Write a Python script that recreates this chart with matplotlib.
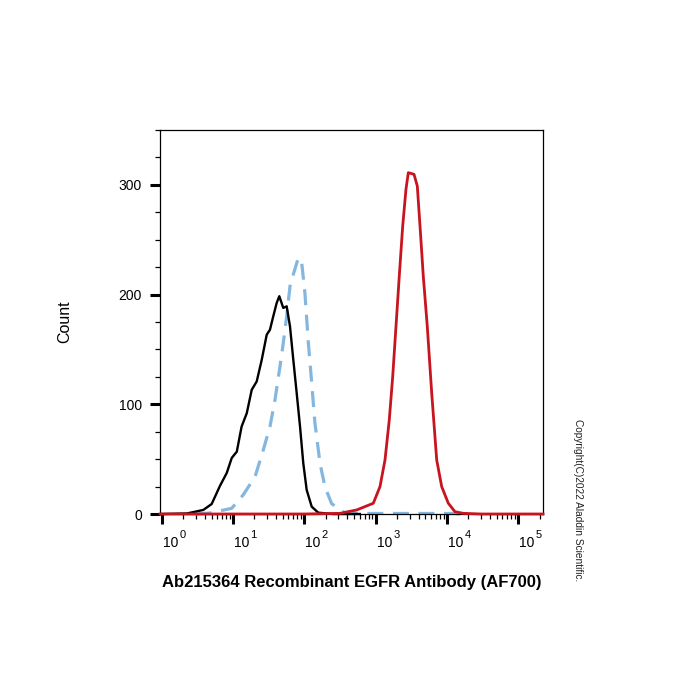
import numpy as np
import matplotlib
matplotlib.use("Agg")
import matplotlib.pyplot as plt
import matplotlib.transforms as mtransforms
from matplotlib.ticker import LogLocator, MultipleLocator, FixedLocator, NullFormatter

plt.rcParams['font.family'] = ['Liberation Sans', 'DejaVu Sans']

# isotype / unstained control (black)
black_x = [1.0, 2.26, 3.83, 5.02, 6.58, 8.17, 9.6, 11.3, 13.2, 15.6, 18.3, 21.5,
           25.3, 29.7, 33.0, 36.7, 41.0, 44.6, 50.7, 56.6, 63.0, 70.1, 78.2,
           87.1, 96.8, 108, 127, 157, 253, 600]
black_y = [0, 0.5, 3.7, 9.1, 25.8, 37.4, 51.1, 56.8, 79.7, 91.9, 113.2, 120.8,
           140.6, 163.4, 168.0, 180.2, 192.4, 198.5, 187.8, 189.3, 171.0, 140.6,
           110.2, 79.7, 46.2, 21.9, 6.7, 1.2, 0, 0]

# second control (blue dashed)
blue_x = [3.0, 4.75, 9.6, 13.9, 20.4, 26.6, 33.0, 38.8, 45.6, 50.7, 56.6, 63.0,
          70.1, 82.4, 92.0, 102, 114, 127, 141, 166, 195, 242, 372, 603,
          1500, 5000, 12000, 16000]
blue_y = [0, 0.9, 5.2, 17.4, 34.1, 58.4, 79.7, 104.1, 134.5, 155.8, 180.2, 207.6,
          218.3, 233.5, 228.9, 201.5, 155.8, 119.3, 82.8, 46.2, 24.7, 9.4, 1.0,
          0.5, 0.5, 0.5, 0.5, 0]

# EGFR antibody (red)
red_x = [0.95, 100, 317, 543, 929, 1153, 1355, 1556, 1738, 1932, 2148, 2399,
         2667, 2877, 3459, 3846, 4198, 4667, 5309, 6124, 7194, 8453, 10470,
         12970, 16980, 30000, 223000]
red_y = [0, 0, 0.6, 3.7, 9.8, 25.0, 49.3, 85.8, 125.4, 171.0, 216.7, 262.4,
         295.9, 311.1, 309.6, 298.9, 262.4, 216.7, 171.0, 110.2, 49.3, 25.0,
         9.8, 2.1, 0.6, 0, 0]

decades = [0, 1, 2, 3, 4, 5]
y_major = [0, 100, 200, 300]

fig = plt.figure(figsize=(7, 7), dpi=100)
ax = fig.add_axes([160 / 700, 1 - 514 / 700, 383 / 700, 384 / 700])

ax.plot(black_x, black_y, color='black', lw=1.7, clip_on=False, zorder=3)
ax.plot(blue_x, blue_y, color='#84b7e0', lw=2.3, dashes=(5, 3), clip_on=False, zorder=2)
ax.plot(red_x, red_y, color='#c8141e', lw=2.0, clip_on=False, zorder=4)

ax.set_xscale('log')
ax.set_xlim(10 ** -0.024, 10 ** 5.348)
ax.set_ylim(0, 350)

ax.xaxis.set_major_locator(FixedLocator([10.0 ** d for d in decades]))
ax.xaxis.set_minor_locator(LogLocator(base=10, subs=np.arange(2, 10), numticks=20))
ax.xaxis.set_minor_formatter(NullFormatter())

ax.yaxis.set_major_locator(FixedLocator(y_major))
ax.yaxis.set_minor_locator(MultipleLocator(25))

ax.tick_params(which='major', direction='out', length=7.5, width=2.2, labelsize=10)
ax.tick_params(which='minor', direction='out', length=3.8, width=0.9)
ax.tick_params(axis='x', which='both', labelbottom=False)
ax.tick_params(axis='y', which='major', pad=5.5)

# decade labels drawn as "10" with a raised exponent, like the cytometer export
xt = ax.get_xaxis_transform()
for d in decades:
    base = mtransforms.offset_copy(xt, fig=fig, x=1, y=-32.7, units='dots')
    ax.text(10.0 ** d, 0, '10', transform=base, fontsize=10,
            ha='left', va='baseline', clip_on=False)
    sup = mtransforms.offset_copy(xt, fig=fig, x=17.5, y=-24.3, units='dots')
    ax.text(10.0 ** d, 0, str(d), transform=sup, fontsize=8,
            ha='left', va='baseline', clip_on=False)

for s in ax.spines.values():
    s.set_linewidth(0.9)

ax.set_ylabel('Count', fontsize=11.5)
ax.yaxis.set_label_coords(-0.228, 0.5)
ax.set_xlabel('Ab215364 Recombinant EGFR Antibody (AF700)', fontsize=12,
              fontweight='bold', va='baseline')
ax.xaxis.set_label_coords(0.5, -0.189)

fig.text(578 / 700, 1 - 500 / 700, 'Copyright(C)2022 Aladdin Scientific.',
         rotation=-90, fontsize=7.3, color='#222222', ha='center', va='center')

fig.savefig('out.png', dpi=100)
